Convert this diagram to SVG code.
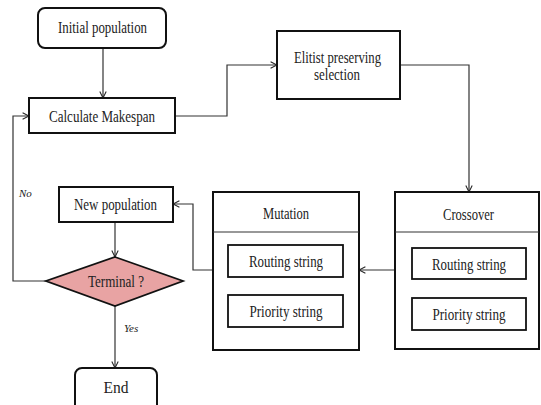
<svg xmlns="http://www.w3.org/2000/svg" width="541" height="405" viewBox="0 0 541 405">
  <defs>
    <marker id="arrow" viewBox="0 0 10 10" refX="9" refY="5" markerWidth="8" markerHeight="8" markerUnits="userSpaceOnUse" orient="auto">
      <path d="M1,1 L9,5 L1,9" fill="none" stroke="#222" stroke-width="1.3"/>
    </marker>
  </defs>
  <style>
    .box { fill: #fff; stroke: #111; stroke-width: 2; }
    .inner { fill: #fff; stroke: #111; stroke-width: 1.8; }
    .sep { stroke: #333; stroke-width: 1.2; }
    .decision { fill: #e8a3a3; stroke: #111; stroke-width: 1.8; }
    .label { font-size: 16px; fill: #222; text-anchor: middle; }
    .note { font-size: 11px; font-style: italic; fill: #222; }
    .link { fill: none; stroke: #333; stroke-width: 1.2; marker-end: url(#arrow); }
  </style>

  <g font-family="Liberation Serif, Times New Roman, serif">
  <!-- connectors -->
  <g id="connectors">
    <path class="link" d="M103,48 L103,98"/>
    <path class="link" d="M175,116 L227,116 L227,65 L277,65"/>
    <path class="link" d="M400,65 L469,65 L469,192"/>
    <path class="link" d="M395,270 L359,270"/>
    <path class="link" d="M213,270 L193,270 L193,204 L173,204"/>
    <path class="link" d="M115,222 L115,257"/>
    <path class="link" d="M46,281 L13,281 L13,116 L29,116"/>
    <path class="link" d="M115,306 L115,368"/>
    <text class="note" x="19" y="197">No</text>
    <text class="note" x="124" y="332">Yes</text>
  </g>

  <g id="initial-population">
    <rect class="box" x="38" y="8" width="128" height="40" rx="7"/>
    <text class="label" x="102.5" y="33" textLength="89" lengthAdjust="spacingAndGlyphs">Initial population</text>
  </g>

  <g id="calculate-makespan">
    <rect class="box" x="29" y="98" width="146" height="35"/>
    <text class="label" x="102" y="122" textLength="106" lengthAdjust="spacingAndGlyphs">Calculate Makespan</text>
  </g>

  <g id="elitist-selection">
    <rect class="box" x="277" y="31" width="123" height="68"/>
    <text class="label" x="337.5" y="63" textLength="87" lengthAdjust="spacingAndGlyphs">Elitist preserving</text>
    <text class="label" x="337" y="80" textLength="46" lengthAdjust="spacingAndGlyphs">selection</text>
  </g>

  <g id="crossover">
    <rect class="box" x="395" y="192" width="144" height="157"/>
    <line class="sep" x1="395" y1="232" x2="539" y2="232"/>
    <text class="label" x="468.5" y="220" textLength="51" lengthAdjust="spacingAndGlyphs">Crossover</text>
    <rect class="inner" x="412" y="248" width="114" height="31"/>
    <text class="label" x="469" y="270" textLength="74" lengthAdjust="spacingAndGlyphs">Routing string</text>
    <rect class="inner" x="412" y="298" width="114" height="32"/>
    <text class="label" x="469" y="320" textLength="73" lengthAdjust="spacingAndGlyphs">Priority string</text>
  </g>

  <g id="mutation">
    <rect class="box" x="213" y="192" width="146" height="158"/>
    <line class="sep" x1="213" y1="232" x2="359" y2="232"/>
    <text class="label" x="286" y="219" textLength="46" lengthAdjust="spacingAndGlyphs">Mutation</text>
    <rect class="inner" x="228" y="245" width="115" height="32"/>
    <text class="label" x="286" y="267" textLength="74" lengthAdjust="spacingAndGlyphs">Routing string</text>
    <rect class="inner" x="228" y="295" width="115" height="32"/>
    <text class="label" x="286" y="317" textLength="73" lengthAdjust="spacingAndGlyphs">Priority string</text>
  </g>

  <g id="new-population">
    <rect class="box" x="59" y="187" width="114" height="35"/>
    <text class="label" x="115.5" y="210" textLength="83" lengthAdjust="spacingAndGlyphs">New population</text>
  </g>

  <g id="terminal">
    <polygon class="decision" points="115,257 183,281 115,306 46,281"/>
    <text class="label" x="116" y="287" textLength="56" lengthAdjust="spacingAndGlyphs">Terminal ?</text>
  </g>

  <g id="end">
    <rect class="box" x="75" y="368" width="82" height="45" rx="7"/>
    <text class="label" x="116" y="393" textLength="25" lengthAdjust="spacingAndGlyphs">End</text>
  </g>
  </g>
</svg>
